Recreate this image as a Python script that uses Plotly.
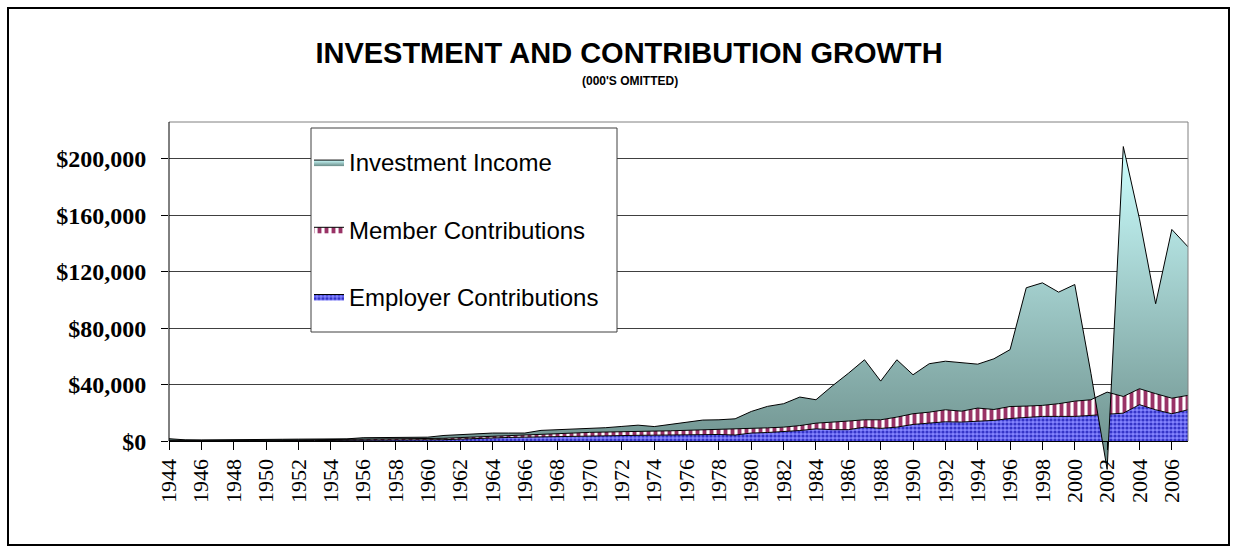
import plotly.graph_objects as go

# ---------------- data (in $000s) ----------------
years = list(range(1944, 2008))

employer = [300, 250, 250, 250, 250, 250, 300, 350, 400, 400,
            450, 450, 550, 600, 650, 700, 800, 1000, 1400, 1900,
            2400, 2600, 2800, 3000, 3300, 3600, 4000, 4000, 4000, 4100,
            4200, 4400, 4700, 4900, 4700, 4300, 5700, 6100, 6600, 7500,
            8700, 8100, 8100, 9900, 9000, 9900, 11800, 12700, 13700, 13500,
            14200, 14700, 16000, 17000, 17500, 17500, 17500, 18200, 19000, 19800,
            25800, 22200, 19400, 22200]

member = [300, 250, 250, 250, 250, 250, 300, 350, 400, 400,
          450, 450, 550, 600, 650, 700, 800, 1000, 1100, 1000,
          900, 1000, 1200, 1600, 1900, 2100, 2200, 2300, 2400, 2700,
          2900, 2900, 2900, 2900, 3300, 4100, 3300, 3300, 3300, 3500,
          4000, 5200, 6100, 5200, 6100, 7100, 7600, 7800, 8500, 7700,
          9200, 7700, 8500, 7800, 7800, 9000, 10800, 11100, 15700, 11800,
          11300, 11400, 11000, 10200]

investment = [1100, 400, 300, 300, 300, 300, 300, 600, 600, 700,
              600, 700, 1300, 1400, 1300, 1300, 1200, 2000, 2100, 2300,
              2400, 2100, 1700, 3000, 2800, 3100, 3100, 3200, 4000, 4500,
              3200, 4700, 5600, 7100, 7100, 7400, 12000, 15200, 16600, 20200,
              16600, 25700, 33800, 42500, 27400, 40600, 27600, 34300, 34400, 34300,
              31100, 35900, 40300, 83800, 86800, 79000, 82600, 18700, -54700, 177000,
              120300, 63700, 119500, 105200]

y_tick_values = [0, 40000, 80000, 120000, 160000, 200000]
y_tick_labels = ["<b>$" + f"{v:,}" + "</b>" for v in y_tick_values]
x_tick_start = 1944
x_tick_step = 2

# ---------------- page geometry ----------------
W, H = 1238, 552
L, R, T, B = 169, 50, 122, 77
PW, PH = W - L - R, H - T - B
Y_MIN, Y_MAX = -24000, 226000


def px_x(px):
    return (px - L) / PW


def px_y(py):
    return (H - B - py) / PH


totals = [e + m + i for e, m, i in zip(employer, member, investment)]

fig = go.Figure()

fig.add_trace(go.Scatter(
    x=years, y=employer, name="Employer Contributions",
    stackgroup="one", mode="lines", legendgroup="emp", legendrank=3,
    line=dict(color="black", width=1),
    fillcolor="#6666ff",
    fillpattern=dict(shape=".", fgcolor="#3434c8", bgcolor="#8484ff",
                     fgopacity=1, size=4, solidity=0.5),
))

fig.add_trace(go.Scatter(
    x=years, y=member, name="Member Contributions",
    stackgroup="one", mode="lines", legendgroup="mem", legendrank=2,
    line=dict(color="black", width=1),
    fillcolor="#993366",
    fillpattern=dict(shape="|", fgcolor="#993366", bgcolor="white",
                     fgopacity=1, size=7, solidity=0.55),
))

fig.add_trace(go.Scatter(
    x=years, y=investment, name="Investment Income",
    stackgroup="one", mode="lines", legendgroup="inv", legendrank=1,
    line=dict(color="black", width=1),
    fillgradient=dict(type="vertical",
                      start=min(totals), stop=max(totals),
                      colorscale=[[0, "#6a8c88"], [1, "#ccffff"]]),
))

axis_pos = (0 - Y_MIN) / (Y_MAX - Y_MIN)

fig.update_layout(
    width=W, height=H,
    margin=dict(l=L, r=R, t=T, b=B, pad=0),
    paper_bgcolor="white", plot_bgcolor="white",
    title=dict(text="<b>INVESTMENT AND CONTRIBUTION GROWTH</b>",
               font=dict(family="Liberation Sans", size=29, color="black"),
               xref="container", x=629 / W, xanchor="center",
               yref="container", y=1 - 53 / H, yanchor="middle"),
    xaxis=dict(type="linear", range=[years[0], years[-1]],
               tick0=x_tick_start, dtick=x_tick_step,
               anchor="free", position=axis_pos,
               showgrid=False, zeroline=False,
               showline=True, linecolor="black", linewidth=1,
               ticks="outside", ticklen=8, tickcolor="black", tickwidth=1,
               tickangle=-90,
               tickfont=dict(family="Liberation Serif", size=22, color="black")),
    yaxis=dict(range=[Y_MIN, Y_MAX], tickvals=y_tick_values,
               ticktext=y_tick_labels,
               showgrid=True, gridcolor="#404040", gridwidth=1,
               zeroline=False, showline=False,
               ticks="outside", ticklen=7, tickcolor="black",
               ticklabelstandoff=10,
               tickfont=dict(family="Liberation Serif", size=24, color="black")),
    legend=dict(x=px_x(309), y=px_y(140), xanchor="left", yanchor="top",
                bgcolor="rgba(0,0,0,0)", borderwidth=0,
                traceorder="grouped", tracegroupgap=33,
                font=dict(family="Liberation Sans", size=24, color="black")),
    annotations=[dict(text="<b>(000'S OMITTED)</b>", showarrow=False,
                      xref="paper", yref="paper",
                      x=px_x(630), y=px_y(81),
                      xanchor="center", yanchor="middle",
                      font=dict(family="Liberation Sans", size=12, color="black"))],
    shapes=[
        # legend frame
        dict(type="rect", xref="paper", yref="paper",
             x0=px_x(311), x1=px_x(617), y0=px_y(332), y1=px_y(128),
             fillcolor="white", line=dict(color="#404040", width=1), layer="above"),
        # plot area top border
        dict(type="line", xref="paper", yref="paper", x0=0, x1=1, y0=1, y1=1,
             line=dict(color="#808080", width=1)),
        # plot area right border
        dict(type="line", xref="paper", yref="y", x0=1, x1=1, y0=0, y1=Y_MAX,
             line=dict(color="#808080", width=1)),
        # y axis line
        dict(type="line", xref="paper", yref="y", x0=0, x1=0, y0=0, y1=Y_MAX,
             line=dict(color="black", width=1)),
        # outer chart border
        dict(type="rect", xref="paper", yref="paper",
             x0=px_x(8), x1=px_x(1229), y0=px_y(545), y1=px_y(8),
             line=dict(color="black", width=2)),
    ],
)

fig.write_html("out.html")
